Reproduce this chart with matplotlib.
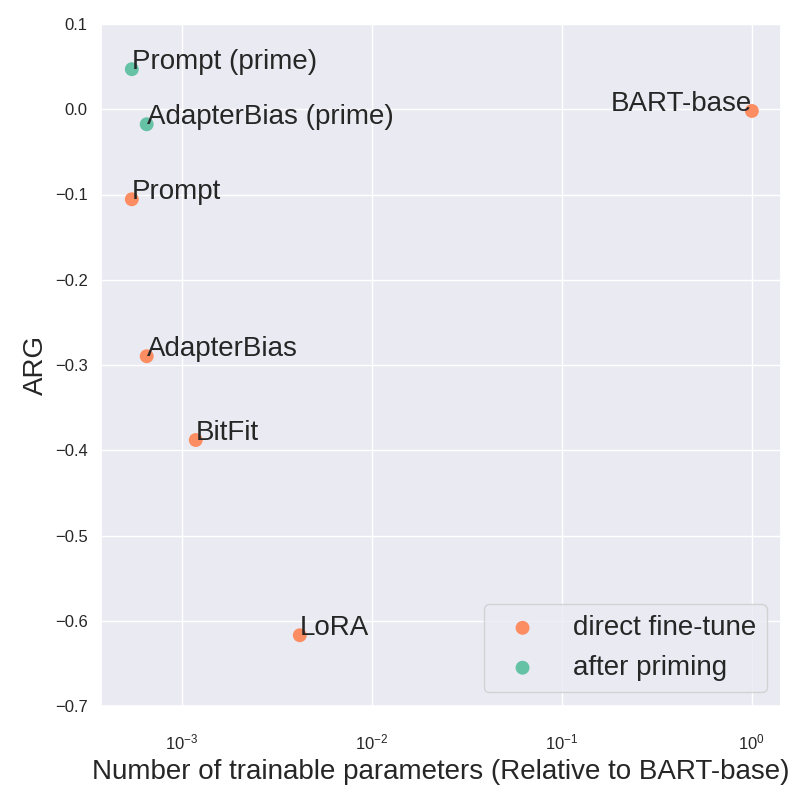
import matplotlib
matplotlib.use('Agg')
import matplotlib.pyplot as plt
import seaborn as sns

# values
methods = ['BART-base', 'Prompt', 'AdapterBias', 'BitFit', 'LoRA',
           'Prompt (prime)', 'AdapterBias (prime)']
params = [1.0, 5.46e-4, 6.54e-4, 1.185e-3, 4.18e-3, 5.46e-4, 6.54e-4]
arg = [-0.002, -0.1056, -0.2897, -0.388, -0.617, 0.047, -0.0176]
groups = ['direct fine-tune'] * 5 + ['after priming'] * 2

sns.set_theme(style='darkgrid')
plt.rcParams['font.family'] = ['Liberation Sans', 'DejaVu Sans']
plt.rcParams['mathtext.fontset'] = 'custom'
plt.rcParams['mathtext.rm'] = 'Liberation Sans'
plt.rcParams['mathtext.it'] = 'Liberation Sans:italic'
palette = sns.color_palette('Set2')
colors = {'direct fine-tune': palette[1], 'after priming': palette[0]}

fig, ax = plt.subplots(figsize=(8, 8), dpi=100)
fig.subplots_adjust(left=0.126, right=0.976, top=0.97, bottom=0.1175)

for g in ['direct fine-tune', 'after priming']:
    xs = [p for p, gg in zip(params, groups) if gg == g]
    ys = [a for a, gg in zip(arg, groups) if gg == g]
    ax.scatter(xs, ys, s=100, color=colors[g], label=g, edgecolor='none', zorder=3)

for m, p, a in zip(methods, params, arg):
    ha = 'right' if m == 'BART-base' else 'left'
    ax.text(p, a, m, fontsize=20, ha=ha, va='baseline', zorder=4, color='#262626')

ax.set_xscale('log')
ax.set_xlim(3.75e-4, 1.42)
ax.set_ylim(-0.7, 0.1)
ax.minorticks_off()
ax.tick_params(labelsize=12)
ax.tick_params(axis='x', pad=13)
ax.set_xlabel('Number of trainable parameters (Relative to BART-base)', fontsize=20,
              labelpad=5)
ax.set_ylabel('ARG', fontsize=20)
ax.legend(loc='lower right', fontsize=20)

plt.savefig('out.png', dpi=100)
